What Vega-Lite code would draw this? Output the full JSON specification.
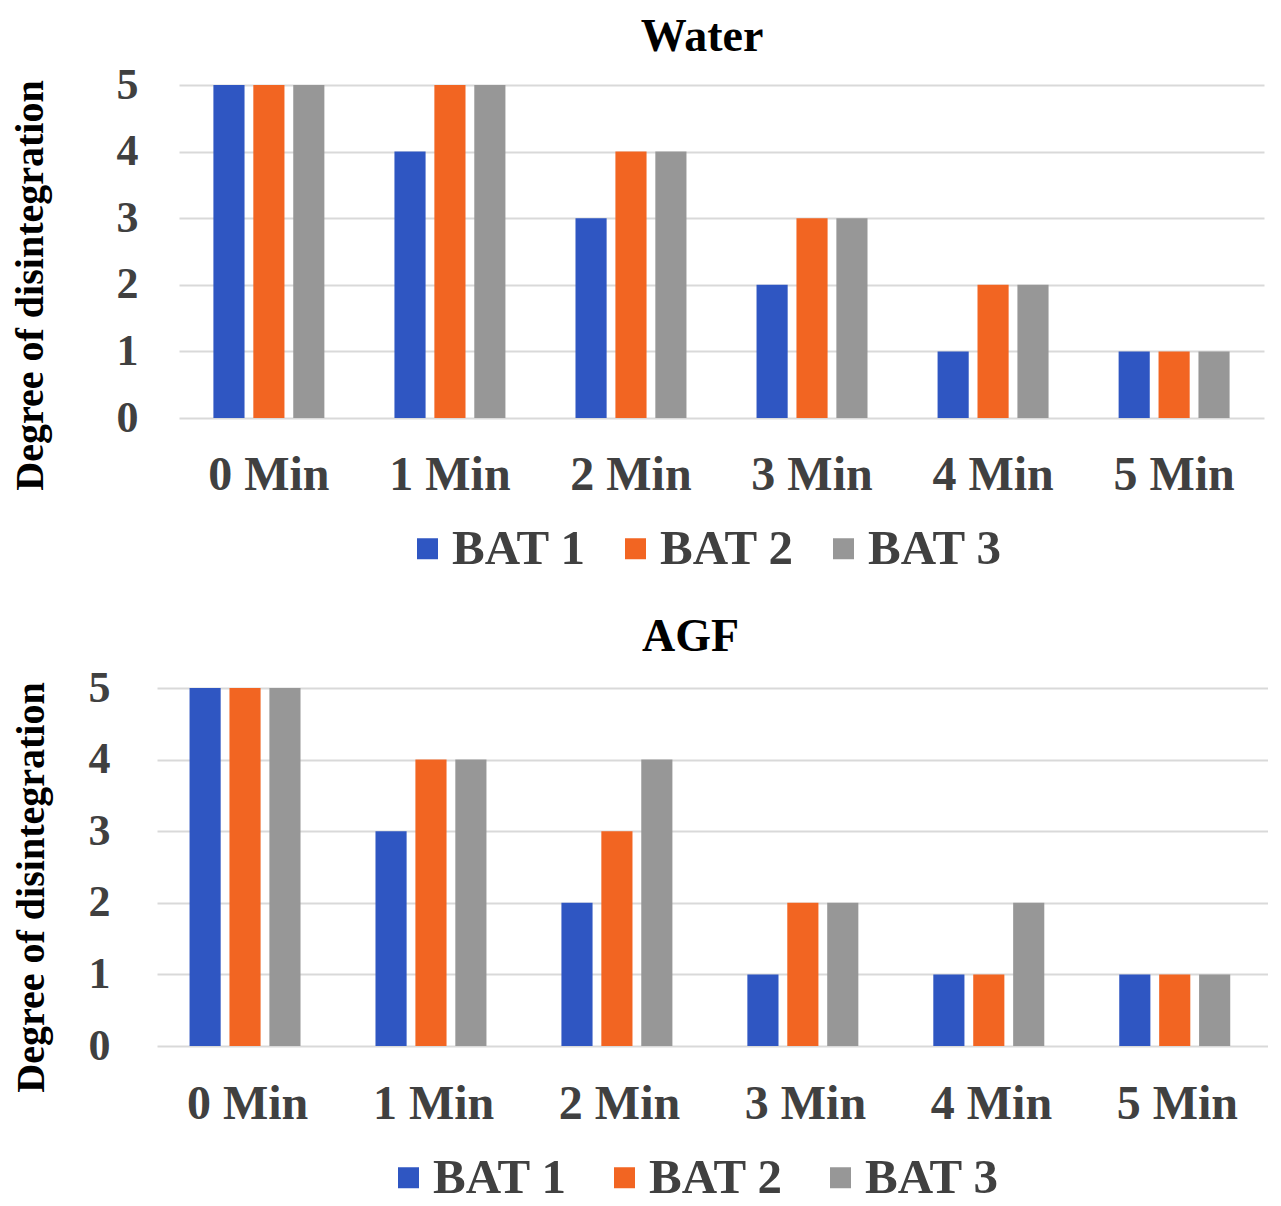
{
  "$schema": "https://vega.github.io/schema/vega-lite/v6.json",
  "padding": {"left": 10, "top": 14, "right": 0, "bottom": 0},
  "background": "white",
  "spacing": 40,
  "data": {
    "values": [
      {"medium": "Water", "time": "0 Min", "bat": "BAT 1", "degree": 5},
      {"medium": "Water", "time": "0 Min", "bat": "BAT 2", "degree": 5},
      {"medium": "Water", "time": "0 Min", "bat": "BAT 3", "degree": 5},
      {"medium": "Water", "time": "1 Min", "bat": "BAT 1", "degree": 4},
      {"medium": "Water", "time": "1 Min", "bat": "BAT 2", "degree": 5},
      {"medium": "Water", "time": "1 Min", "bat": "BAT 3", "degree": 5},
      {"medium": "Water", "time": "2 Min", "bat": "BAT 1", "degree": 3},
      {"medium": "Water", "time": "2 Min", "bat": "BAT 2", "degree": 4},
      {"medium": "Water", "time": "2 Min", "bat": "BAT 3", "degree": 4},
      {"medium": "Water", "time": "3 Min", "bat": "BAT 1", "degree": 2},
      {"medium": "Water", "time": "3 Min", "bat": "BAT 2", "degree": 3},
      {"medium": "Water", "time": "3 Min", "bat": "BAT 3", "degree": 3},
      {"medium": "Water", "time": "4 Min", "bat": "BAT 1", "degree": 1},
      {"medium": "Water", "time": "4 Min", "bat": "BAT 2", "degree": 2},
      {"medium": "Water", "time": "4 Min", "bat": "BAT 3", "degree": 2},
      {"medium": "Water", "time": "5 Min", "bat": "BAT 1", "degree": 1},
      {"medium": "Water", "time": "5 Min", "bat": "BAT 2", "degree": 1},
      {"medium": "Water", "time": "5 Min", "bat": "BAT 3", "degree": 1},
      {"medium": "AGF", "time": "0 Min", "bat": "BAT 1", "degree": 5},
      {"medium": "AGF", "time": "0 Min", "bat": "BAT 2", "degree": 5},
      {"medium": "AGF", "time": "0 Min", "bat": "BAT 3", "degree": 5},
      {"medium": "AGF", "time": "1 Min", "bat": "BAT 1", "degree": 3},
      {"medium": "AGF", "time": "1 Min", "bat": "BAT 2", "degree": 4},
      {"medium": "AGF", "time": "1 Min", "bat": "BAT 3", "degree": 4},
      {"medium": "AGF", "time": "2 Min", "bat": "BAT 1", "degree": 2},
      {"medium": "AGF", "time": "2 Min", "bat": "BAT 2", "degree": 3},
      {"medium": "AGF", "time": "2 Min", "bat": "BAT 3", "degree": 4},
      {"medium": "AGF", "time": "3 Min", "bat": "BAT 1", "degree": 1},
      {"medium": "AGF", "time": "3 Min", "bat": "BAT 2", "degree": 2},
      {"medium": "AGF", "time": "3 Min", "bat": "BAT 3", "degree": 2},
      {"medium": "AGF", "time": "4 Min", "bat": "BAT 1", "degree": 1},
      {"medium": "AGF", "time": "4 Min", "bat": "BAT 2", "degree": 1},
      {"medium": "AGF", "time": "4 Min", "bat": "BAT 3", "degree": 2},
      {"medium": "AGF", "time": "5 Min", "bat": "BAT 1", "degree": 1},
      {"medium": "AGF", "time": "5 Min", "bat": "BAT 2", "degree": 1},
      {"medium": "AGF", "time": "5 Min", "bat": "BAT 3", "degree": 1}
    ]
  },
  "vconcat": [
    {
      "title": {"text": "Water", "dx": -9, "offset": 2},
      "width": 1108,
      "height": 333,
      "transform": [{"filter": "datum.medium == 'Water'"}],
      "mark": "bar",
      "encoding": {
        "x": {
          "field": "time", "type": "nominal", "sort": null, "title": null,
          "scale": {"paddingInner": 0.387, "paddingOuter": 0.19, "range": [22, 1107]},
          "axis": {"labelAngle": 0, "labelPadding": 33, "domain": false, "ticks": false}
        },
        "xOffset": {"field": "bat", "scale": {"paddingInner": 0.22, "paddingOuter": 0}},
        "y": {
          "field": "degree", "type": "quantitative", "title": "Degree of disintegration",
          "scale": {"domain": [0, 5], "nice": false},
          "axis": {"values": [0, 1, 2, 3, 4, 5], "labelPadding": 19, "titlePadding": 66, "titleY": 200}
        },
        "color": {
          "field": "bat", "type": "nominal", "title": null,
          "scale": {"domain": ["BAT 1", "BAT 2", "BAT 3"], "range": ["#2F56C2", "#F26522", "#979797"]},
          "legend": {"orient": "none", "legendX": 246, "legendY": 439, "columnPadding": 25}
        }
      }
    },
    {
      "title": {"text": "AGF", "dx": -22, "offset": 5},
      "width": 1111,
      "height": 358,
      "transform": [{"filter": "datum.medium == 'AGF'"}],
      "mark": "bar",
      "encoding": {
        "x": {
          "field": "time", "type": "nominal", "sort": null, "title": null,
          "scale": {"paddingInner": 0.375, "paddingOuter": 0.175},
          "axis": {"labelAngle": 0, "labelPadding": 34, "domain": false, "ticks": false}
        },
        "xOffset": {"field": "bat", "scale": {"paddingInner": 0.22, "paddingOuter": 0}},
        "y": {
          "field": "degree", "type": "quantitative", "title": "Degree of disintegration",
          "scale": {"domain": [0, 5], "nice": false},
          "axis": {"values": [0, 1, 2, 3, 4, 5], "labelPadding": 47, "titlePadding": 37, "titleY": 199}
        },
        "color": {
          "field": "bat", "type": "nominal", "title": null,
          "scale": {"domain": ["BAT 1", "BAT 2", "BAT 3"], "range": ["#2F56C2", "#F26522", "#979797"]},
          "legend": {"orient": "none", "legendX": 227, "legendY": 465, "columnPadding": 33}
        }
      }
    }
  ],
  "resolve": {"legend": {"color": "independent"}, "scale": {"color": "independent"}},
  "config": {
    "view": {"stroke": null},
    "font": "Liberation Serif",
    "title": {"fontSize": 46, "fontWeight": "bold", "color": "#000000", "anchor": "middle", "frame": "group", "baseline": "alphabetic"},
    "axis": {
      "labelFont": "Liberation Serif", "labelFontSize": 48, "labelFontWeight": "bold", "labelColor": "#404040",
      "titleFont": "Liberation Serif", "titleFontSize": 40, "titleFontWeight": "bold", "titleColor": "#000000",
      "gridColor": "#D9D9D9", "gridWidth": 2, "domain": false, "ticks": false
    },
    "axisY": {"labelFontSize": 44},
    "legend": {
      "direction": "horizontal",
      "symbolType": "square", "symbolSize": 441, "symbolStrokeWidth": 0,
      "labelFont": "Liberation Serif", "labelFontSize": 49, "labelFontWeight": "bold", "labelColor": "#404040",
      "labelOffset": 0, "columnPadding": 29, "labelLimit": 400
    }
  }
}
